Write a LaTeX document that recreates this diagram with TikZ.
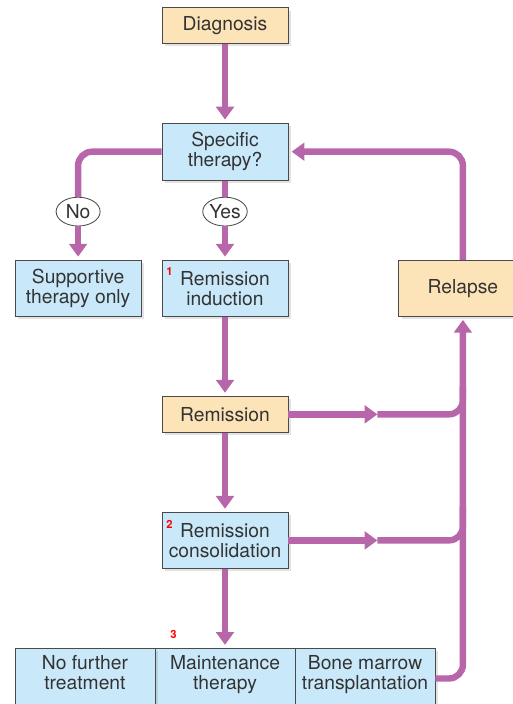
\documentclass[tikz,border=0pt]{standalone}
\usepackage{fontspec}
\setmainfont{TeX Gyre Heros}
\usetikzlibrary{arrows.meta,positioning,shapes.geometric,shadows,calc}
\definecolor{boxorange}{HTML}{FDE3B8}
\definecolor{boxblue}{HTML}{C9E9FA}
\definecolor{flow}{HTML}{B767A9}
\definecolor{edge}{HTML}{4A4A4A}
\definecolor{txt}{HTML}{333333}

\begin{document}
\begin{tikzpicture}[
  x=0.025cm, y=-0.025cm,
  node distance=1.98cm and 0.5cm,
  box/.style={rectangle, draw=edge, line width=0.6pt, text=txt, align=center,
              font=\fontsize{13.7}{14.2}\selectfont, minimum width=3.15cm, inner sep=2pt,
              drop shadow={shadow xshift=0.07cm, shadow yshift=-0.07cm, opacity=0.22}},
  org/.style={box, fill=boxorange},
  blu/.style={box, fill=boxblue},
  flat/.style={minimum height=0.88cm},
  tall/.style={minimum height=1.4cm},
  wide/.style={minimum width=3.5cm, minimum height=1.5cm, text depth=9pt},
  ans/.style={ellipse, draw=edge, line width=0.6pt, fill=white, text=txt, inner sep=0pt,
              minimum width=1.1cm, minimum height=0.72cm, font=\fontsize{13.7}{14.2}\selectfont},
  lnk/.style={line width=0.16cm, flow, rounded corners=0.35cm},
  arr/.style={lnk, -{Triangle[width=0.44cm, length=0.32cm]}, shorten >=0.08cm},
  mid/.style={lnk, -{Triangle[width=0.44cm, length=0.32cm]}},
  num/.style={text=red, font=\bfseries\fontsize{8}{8}\selectfont, inner sep=0pt}
]
\useasboundingbox (0,0) rectangle (513,704);
\clip (0,0) rectangle (513,704);

\node[org, flat] (diag) at (225,25.5) {Diagnosis};
\node[blu, minimum height=1.425cm, below=of diag] (spec) {Specific\\therapy?};
\node[blu, tall, below=of spec] (ind) {Remission\\induction};
\node[blu, tall, left=of ind] (supp) {Supportive\\therapy only};
\node[org, tall, minimum width=3.2cm, right=2.75cm of ind] (rel) {Relapse};
\node[org, minimum height=0.9cm, below=of ind] (rem) {Remission};
\node[blu, tall, below=of rem] (cons) {Remission\\consolidation};
\node[blu, wide, below=of cons] (mnt) {Maintenance\\therapy};
\node[blu, wide, left=-0.6pt of mnt] (nft) {No further\\treatment};
\node[blu, wide, right=-0.6pt of mnt] (bmt) {Bone marrow\\transplantation};

% answers on the branches
\node[ans] (yes) at ($(spec.south)+(0,31)$) {Yes};
\node[ans] (no) at (yes -| supp) {No};

% red step numbers
\node[num] (n1) at ($(ind.north west)+(8,12)$) {1};
\node[num] (n2) at ($(cons.north west)+(8,12)$) {2};
\node[num] (n3) at ($(mnt.north west)+(19,-14)$) {3};

\coordinate (m1) at ($(rem.east)+(89,0)$);
\coordinate (m2) at ($(cons.east)+(89,0)$);
\coordinate (j1) at ($(rel.south)+(0,70)$);
\coordinate (j2) at ($(rel.south)+(0,190)$);

\draw[lnk] (spec.west) -| (no);
\draw[lnk] (spec) -- (yes);
\draw[lnk] (m1) -| (j1);
\draw[lnk] (m2) -| (j2);

\draw[arr] (diag) -- (spec);
\draw[arr] (no) -- (supp);
\draw[arr] (yes) -- (ind);
\draw[arr] (ind) -- (rem);
\draw[arr] (rem) -- (cons);
\draw[arr] (cons) -- (mnt);
\draw[arr] (rel.north) |- (spec.east);
\draw[arr] (bmt.east) -| (rel.south);
\draw[mid] (rem.east) -- (m1);
\draw[mid] (cons.east) -- (m2);
\end{tikzpicture}
\end{document}
